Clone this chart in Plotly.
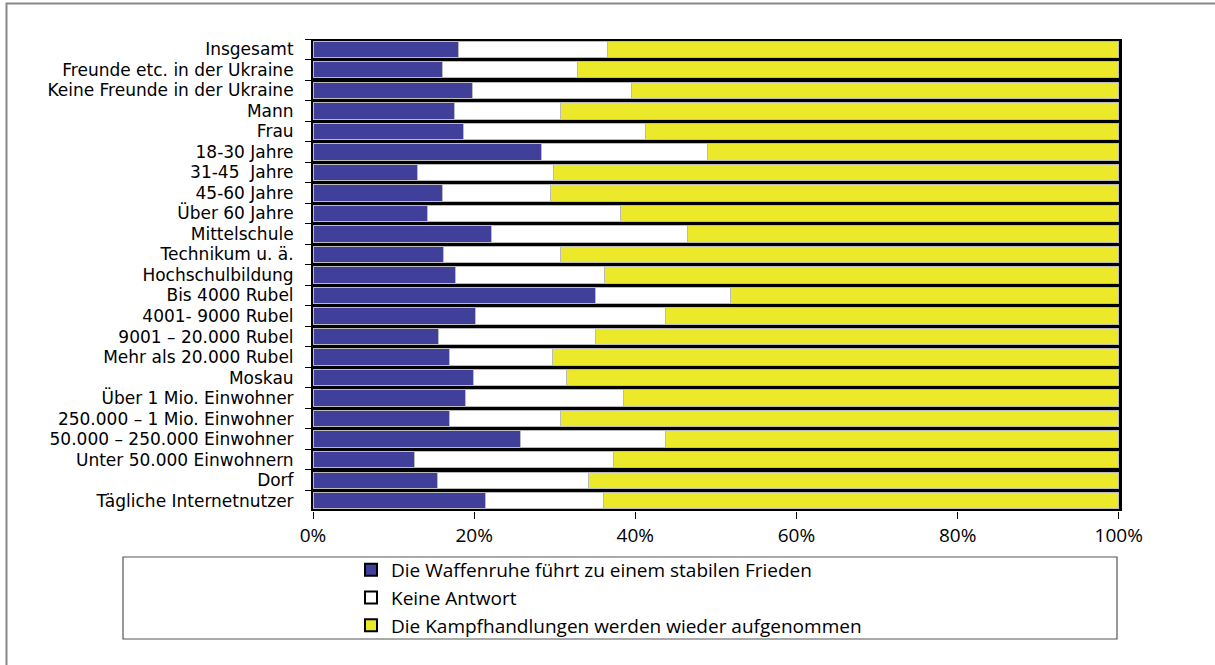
import plotly.graph_objects as go

categories = [
    "Insgesamt", "Freunde etc. in der Ukraine", "Keine Freunde in der Ukraine",
    "Mann", "Frau", "18-30 Jahre", "31-45  Jahre", "45-60 Jahre", "Über 60 Jahre",
    "Mittelschule", "Technikum u. ä.", "Hochschulbildung", "Bis 4000 Rubel",
    "4001- 9000 Rubel", "9001 – 20.000 Rubel", "Mehr als 20.000 Rubel", "Moskau",
    "Über 1 Mio. Einwohner", "250.000 – 1 Mio. Einwohner", "50.000 – 250.000 Einwohner",
    "Unter 50.000 Einwohnern", "Dorf", "Tägliche Internetnutzer",
]
frieden = [18.1, 16.1, 19.8, 17.5, 18.7, 28.4, 13.0, 16.1, 14.2, 22.1, 16.2, 17.7,
           35.0, 20.2, 15.6, 16.9, 19.9, 18.9, 17.0, 25.8, 12.6, 15.5, 21.4]
keine = [18.4, 16.7, 19.7, 13.2, 22.6, 20.6, 16.8, 13.4, 24.0, 24.4, 14.5, 18.5,
         16.8, 23.5, 19.4, 12.8, 11.6, 19.6, 13.7, 17.9, 24.7, 18.7, 14.6]
kampf = [round(100 - a - b, 1) for a, b in zip(frieden, keine)]

series = [
    ("Die Waffenruhe führt zu einem stabilen Frieden", frieden, "#40409A"),
    ("Keine Antwort", keine, "#FFFFFF"),
    ("Die Kampfhandlungen werden wieder aufgenommen", kampf, "#ECE82A"),
]
x_ticks = [0, 20, 40, 60, 80, 100]
x_tick_labels = ["0%", "20%", "40%", "60%", "80%", "100%"]

FONT = "Open Sans, sans-serif"
FS = 19
FONT_Y = "DejaVu Sans, sans-serif"
FS_Y = 17

fig = go.Figure()
for i, (name, vals, col) in enumerate(series):
    fig.add_trace(go.Bar(
        y=categories, x=vals, orientation="h", name=name,
        marker=dict(color=col, line=dict(color="#BBBBBB", width=1)),
        showlegend=False,
    ))
# legend entries (black outlined squares, as in the original legend)
for i, (name, vals, col) in enumerate(series):
    fig.add_trace(go.Bar(
        y=[None], x=[None], orientation="h", name=name,
        marker=dict(color=col, line=dict(color="black", width=2)),
        showlegend=True, legendgroup=f"g{i}",
    ))

W, H = 1215, 665
L, R, T, B = 313, 93, 39, 154
pw, ph = W - L - R, H - T - B

def px_x(x):
    return (x - L) / pw

def px_y(y):
    return (H - B - y) / ph

fig.update_layout(
    width=W, height=H, barmode="stack", bargap=0.2,
    margin=dict(l=L, r=R, t=T, b=B),
    paper_bgcolor="white", plot_bgcolor="black",
    font=dict(family=FONT, size=FS, color="black"),
    showlegend=True,
    legend=dict(
        x=px_x(351), y=px_y(551), xanchor="left", yanchor="top",
        traceorder="grouped", tracegroupgap=0,
        font=dict(size=FS), bgcolor="rgba(0,0,0,0)", borderwidth=0,
        itemwidth=30,
    ),
    xaxis=dict(
        range=[0, 100.4], tickvals=x_ticks, ticktext=x_tick_labels,
        showgrid=False, zeroline=False, showline=False,
        ticks="outside", ticklen=7, tickcolor="black", tickwidth=1,
        tickfont=dict(size=FS),
    ),
    yaxis=dict(
        type="category",
        categoryorder="array", categoryarray=categories, autorange="reversed",
        tickmode="linear", tick0=0, dtick=1,
        showgrid=False, zeroline=False, showline=True, linecolor="black", linewidth=2,
        ticks="outside", tickson="boundaries", ticklen=6, tickcolor="black",
        tickfont=dict(family=FONT_Y, size=FS_Y), ticklabelstandoff=14,
    ),
    shapes=[
        dict(type="rect", xref="paper", yref="paper",
             x0=px_x(123), x1=px_x(1117), y0=px_y(557), y1=px_y(639),
             line=dict(color="#555555", width=1.2), fillcolor="rgba(0,0,0,0)"),
        dict(type="rect", xref="paper", yref="paper",
             x0=px_x(6.5), x1=px_x(1240), y0=px_y(3.5), y1=px_y(700),
             line=dict(color="#888888", width=2), fillcolor="rgba(0,0,0,0)"),
    ],
)

fig.write_html("out.html", config={"displayModeBar": False},
               post_script="document.body.style.margin='0';")
